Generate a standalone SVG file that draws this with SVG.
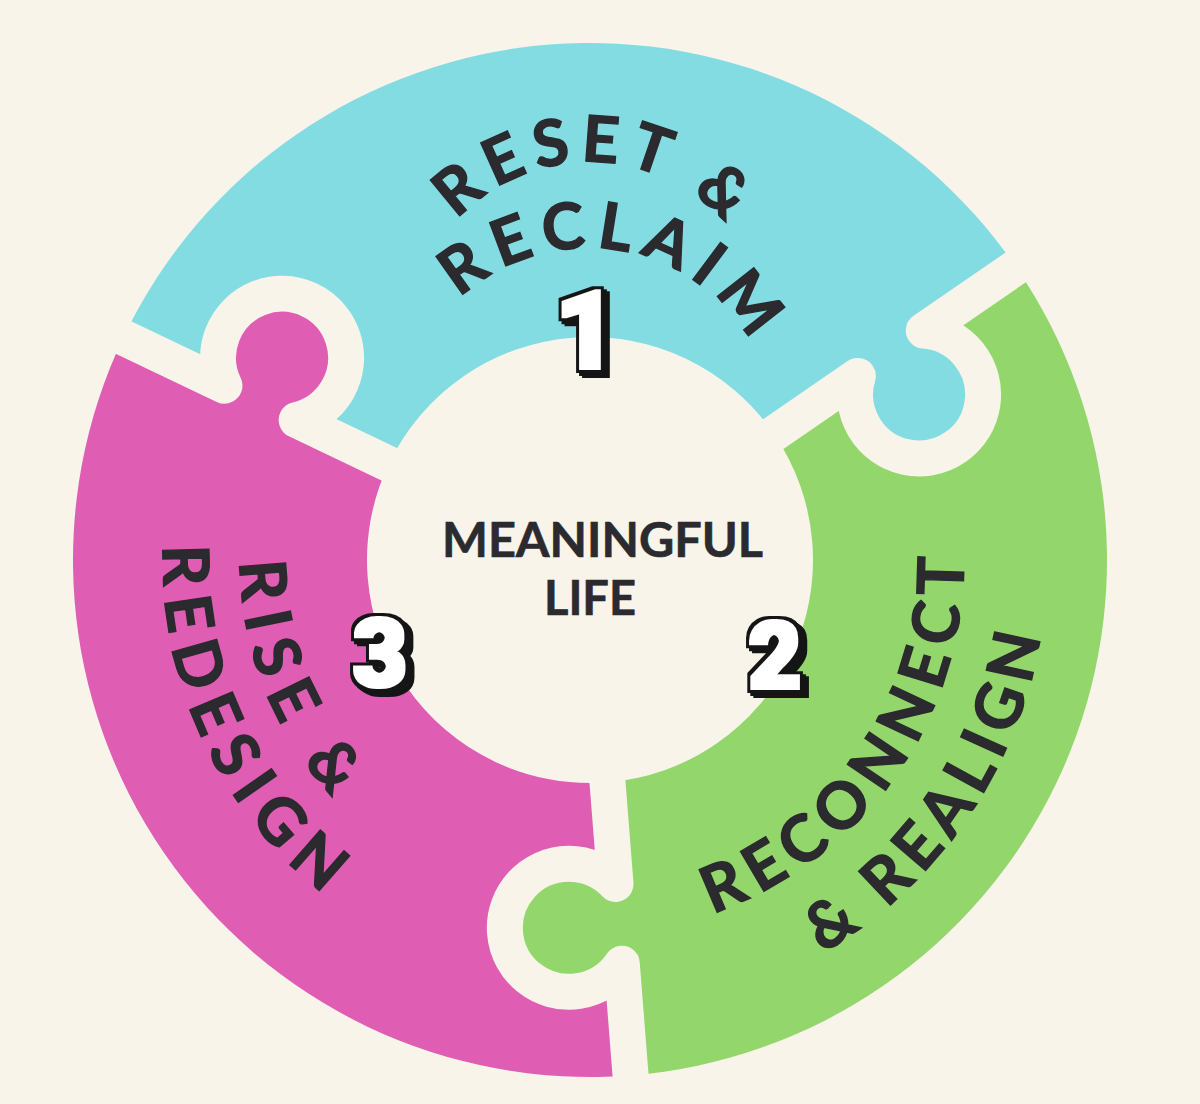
<svg xmlns="http://www.w3.org/2000/svg" width="1200" height="1104" viewBox="0 0 1200 1104">
<style>
.bg{fill:#F8F4EA}
.seam{fill:none;stroke:#F8F4EA;stroke-width:36;stroke-linejoin:round;stroke-linecap:butt}
.lbl{font-family:Lato,"Liberation Sans",sans-serif;font-weight:700;fill:#2B2A2E;stroke:#2B2A2E;stroke-width:1.4;font-size:64px}
.mid{font-family:Lato,"Liberation Sans",sans-serif;font-weight:700;fill:#2B2A2E;stroke:#2B2A2E;stroke-width:0.6;font-size:47px}
.num{font-family:Roboto,"Liberation Sans",sans-serif;font-weight:900;fill:#000;filter:url(#num3d)}
</style>
<defs>
<filter id="num3d" x="-40%" y="-30%" width="190%" height="170%" color-interpolation-filters="sRGB">
<feMorphology in="SourceAlpha" operator="dilate" radius="2.2" result="body"/>
<feMorphology in="SourceAlpha" operator="dilate" radius="4.6" result="outl"/>
<feOffset in="outl" dx="6" dy="5" result="ext1"/>
<feOffset in="outl" dx="3" dy="2.5" result="ext2"/>
<feFlood flood-color="#151515" result="blk"/>
<feComposite in="blk" in2="ext1" operator="in" result="extB"/>
<feComposite in="blk" in2="ext2" operator="in" result="extC"/>
<feComposite in="blk" in2="outl" operator="in" result="outB"/>
<feFlood flood-color="#FFFFFF" result="wht"/>
<feComposite in="wht" in2="body" operator="in" result="face"/>
<feMerge><feMergeNode in="extB"/><feMergeNode in="extC"/><feMergeNode in="outB"/><feMergeNode in="face"/></feMerge>
</filter>
<path id="piece" d="M 223 0 L 325 0 A 64 64 0 1 0 405 0 L 517 0 A 517 517 0 0 1 -258.5 447.735 L -202.5 350.740 A 64 64 0 1 1 -162.5 281.458 L -111.5 193.124 A 223 223 0 0 0 223 0 Z"/>
<path id="seamline" d="M 190 0 L 325 0 A 64 64 0 1 0 405 0 L 550 0"/>
<path id="p-reset" d="M 436.5 247.1 A 181 181 0 0 1 749.8 258.0"/>
<path id="p-reclaim" d="M 431.2 332.2 A 188 188 0 0 1 768.3 382.6"/>
<path id="p-reconnect" d="M 658.2 927.7 A 374 374 0 0 0 957.7 491.9"/>
<path id="p-realign" d="M 677.2 1008.6 A 457 457 0 0 0 1038.6 472.8"/>
<path id="p-rise" d="M 256.2 454.7 A 350 350 0 0 0 428.4 870.5"/>
<path id="p-redesign" d="M 176.6 453.1 A 427 427 0 0 0 412.9 948.6"/>
</defs>
<rect class="bg" x="0" y="0" width="1200" height="1104"/>

<g id="node-center">
<circle class="bg" cx="590" cy="560" r="205"/>
<text class="mid" x="602.5" y="556.7" text-anchor="middle" textLength="321" lengthAdjust="spacingAndGlyphs">MEANINGFUL</text>
<text class="mid" x="590" y="615" text-anchor="middle">LIFE</text>
</g>

<g id="node-reset-reclaim">
<use href="#piece" transform="translate(590 560) rotate(205.5)" fill="#84DCE3"/>
<text class="lbl" letter-spacing="9"><textPath href="#p-reset" startOffset="50%" text-anchor="middle">RESET &amp;</textPath></text>
<text class="lbl" letter-spacing="10"><textPath href="#p-reclaim" startOffset="51%" text-anchor="middle">RECLAIM</textPath></text>
<text class="num" x="586" y="368" font-size="108" text-anchor="middle">1</text>
</g>

<g id="node-reconnect-realign">
<use href="#piece" transform="translate(590 560) rotate(325.5)" fill="#93D66B"/>
<text class="lbl" letter-spacing="10"><textPath href="#p-reconnect" startOffset="50%" text-anchor="middle">RECONNECT</textPath></text>
<text class="lbl" letter-spacing="8"><textPath href="#p-realign" startOffset="50%" text-anchor="middle">&amp; REALIGN</textPath></text>
<text class="num" x="775" y="688" font-size="92" text-anchor="middle">2</text>
</g>

<g id="node-rise-redesign">
<use href="#piece" transform="translate(590 560) rotate(85.5)" fill="#E05DB4"/>
<text class="lbl" letter-spacing="13"><textPath href="#p-rise" startOffset="50%" text-anchor="middle">RISE &amp;</textPath></text>
<text class="lbl" letter-spacing="12"><textPath href="#p-redesign" startOffset="50%" text-anchor="middle">REDESIGN</textPath></text>
<text class="num" x="380" y="686" font-size="94" text-anchor="middle">3</text>
</g>

<g id="connectors">
<use href="#seamline" class="seam" transform="translate(590 560) rotate(205.5)"/>
<use href="#seamline" class="seam" transform="translate(590 560) rotate(325.5)"/>
<use href="#seamline" class="seam" transform="translate(590 560) rotate(85.5)"/>
</g>
</svg>
